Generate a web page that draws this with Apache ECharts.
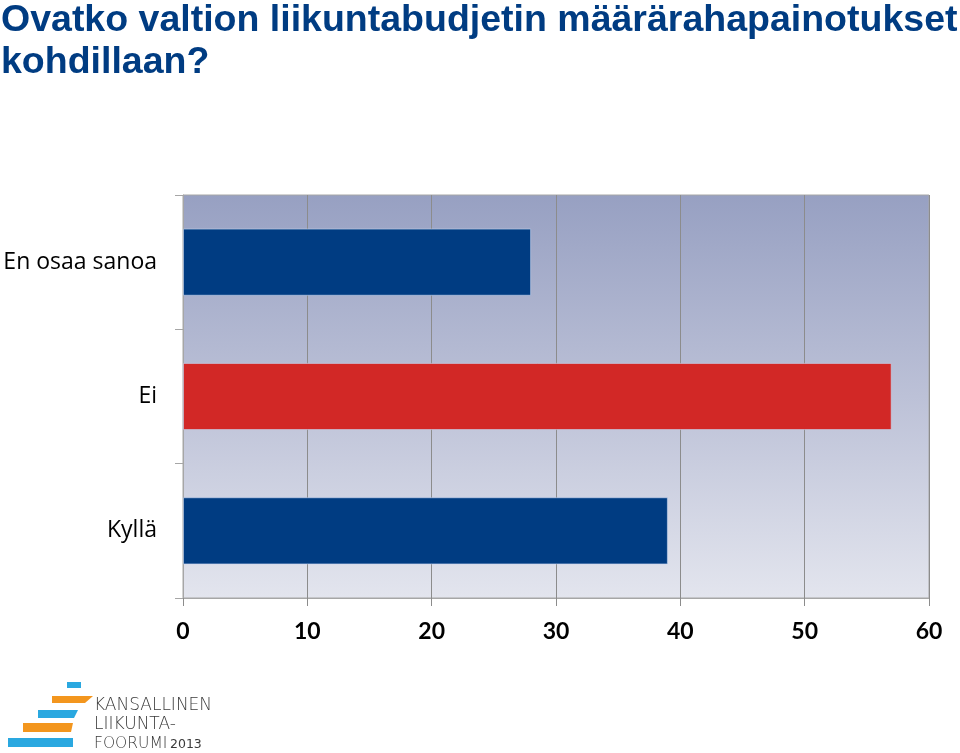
<!DOCTYPE html>
<html><head><meta charset="utf-8">
<script src="https://cdn.jsdelivr.net/npm/echarts@6/dist/echarts.min.js"></script>
<style>html,body{margin:0;padding:0;background:#fff}#c{width:960px;height:753px}</style>
</head><body><div id="c"></div>
<script>
const categories = ['Kyllä', 'Ei', 'En osaa sanoa'];
const values = [39, 57, 28];
const barColors = ['#003C82', '#D22826', '#003C82'];
const xTicks = [0, 10, 20, 30, 40, 50, 60];
const titleLines = ['Ovatko valtion liikuntabudjetin määrärahapainotukset', 'kohdillaan?'];
const logoLines = ['KANSALLINEN', 'LIIKUNTA-'];
const logoLast = 'FOORUMI';
const logoYear = '2013';

const chart = echarts.init(document.getElementById('c'));
const blue = '#2AA8E0', orange = '#F3961E';
function para(x1, x2, y, h, slant, color) {
  return { type: 'polygon', shape: { points: [[x1, y], [x2, y], [x2 - slant, y + h], [x1, y + h]] }, style: { fill: color } };
}
chart.setOption({
  animation: false,
  backgroundColor: '#fff',
  grid: {
    left: 183, right: 31, top: 195, bottom: 155, show: true,
    borderColor: '#A6A6A6', borderWidth: 1,
    backgroundColor: { type: 'linear', x: 0, y: 0, x2: 0, y2: 1, colorStops: [
      { offset: 0, color: '#97A0C2' }, { offset: 0.5, color: '#BCC1D7' }, { offset: 1, color: '#E3E5EE' }] }
  },
  xAxis: {
    type: 'value', min: xTicks[0], max: xTicks[xTicks.length - 1], interval: 10,
    axisLine: { show: true, lineStyle: { color: '#A6A6A6', width: 1 } },
    axisTick: { show: true, length: 8, lineStyle: { color: '#8C8C8C' } },
    splitLine: { show: true, lineStyle: { color: '#8C8C8C', width: 1 } },
    axisLabel: { fontFamily: 'Lato', fontWeight: 'bold', fontSize: 23, color: '#000', margin: 22 }
  },
  yAxis: {
    type: 'category', data: categories,
    axisLine: { show: true, lineStyle: { color: '#A6A6A6', width: 1 } },
    axisTick: { show: true, length: 8, lineStyle: { color: '#A6A6A6' } },
    axisLabel: { fontFamily: 'Open Sans', fontSize: 23, color: '#000', margin: 26 }
  },
  series: [{
    type: 'bar', barCategoryGap: '50%',
    data: values.map((v, i) => ({ value: v, itemStyle: { color: barColors[i] } })),
    itemStyle: { borderColor: 'rgba(200,215,240,0.6)', borderWidth: 1 }
  }],
  graphic: [
    { type: 'text', left: 1, top: 0, style: { text: titleLines.join('\n'), fontFamily: 'Liberation Sans', fontWeight: 'bold', fontSize: 37.5, lineHeight: 42, fill: '#003C82' } },
    { type: 'rect', shape: { x: 67, y: 682, width: 14, height: 6 }, style: { fill: blue } },
    para(52, 93, 696, 7, 8, orange),
    para(38, 78, 710, 8, 4, blue),
    para(23, 73, 723, 9, 2, orange),
    para(8, 73, 738, 9, 0, blue),
    { type: 'text', left: 94, top: 696, style: { text: logoLines.join('\n'), fontFamily: 'DejaVu Sans', fontWeight: 'lighter', fontSize: 17, lineHeight: 19, fill: '#3A3A3A' } },
    { type: 'text', left: 94, top: 734, style: { text: logoLast, fontFamily: 'DejaVu Sans', fontWeight: 'lighter', fontSize: 15.5, lineHeight: 19, fill: '#3A3A3A' } },
    { type: 'text', left: 170, top: 738, style: { text: logoYear, fontFamily: 'DejaVu Sans', fontSize: 12.5, fill: '#3A3A3A' } }
  ]
});
</script></body></html>
